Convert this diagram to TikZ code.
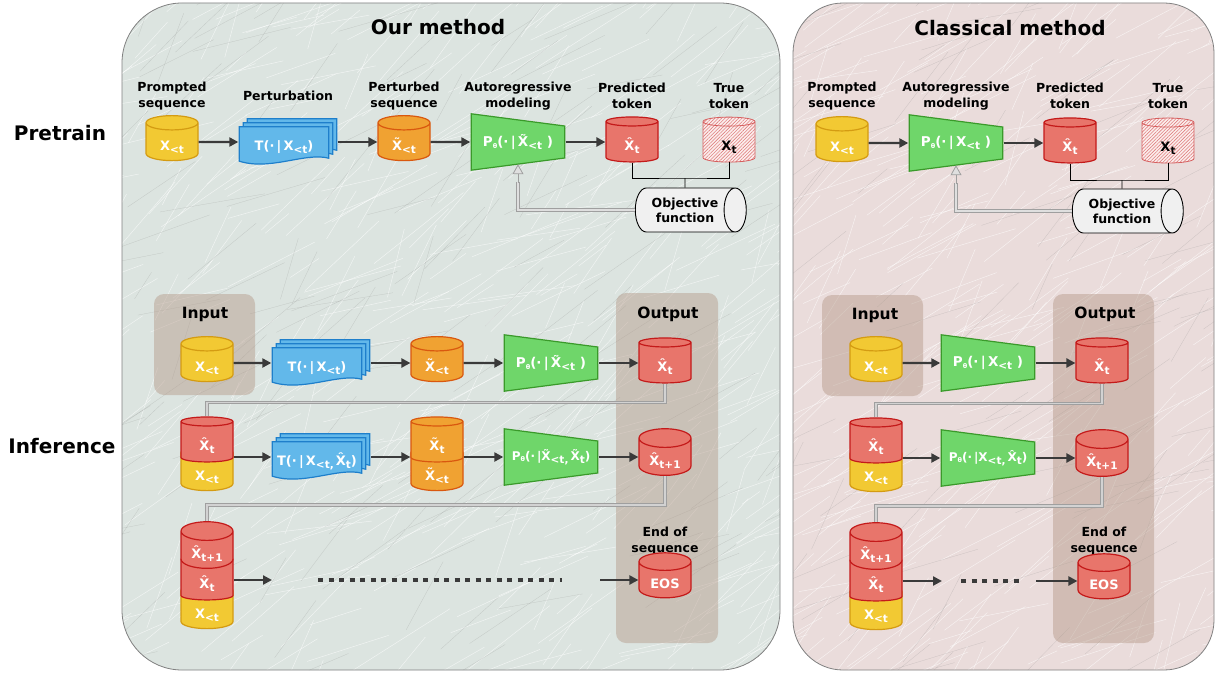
\documentclass[tikz,border=0pt]{standalone}
\usepackage{fontspec}
\setmainfont{DejaVu Sans}
\usepackage{tikz}
\usetikzlibrary{shapes.geometric, arrows.meta, patterns.meta}

\definecolor{panelL}{HTML}{DCE4E0}
\definecolor{panelR}{HTML}{EADCDB}
\definecolor{ioC}{HTML}{B39786}
\definecolor{yelF}{HTML}{F2C933}
\definecolor{yelD}{HTML}{D49B12}
\definecolor{oraF}{HTML}{F0A232}
\definecolor{oraD}{HTML}{D9580F}
\definecolor{redF}{HTML}{E8756B}
\definecolor{redD}{HTML}{C41A1A}
\definecolor{bluF}{HTML}{62B8EA}
\definecolor{bluD}{HTML}{1E7FCB}
\definecolor{grnF}{HTML}{6FD66A}
\definecolor{grnD}{HTML}{3A9A2A}
\definecolor{arrC}{HTML}{3A3A3A}

\newcommand{\lo}[1]{\raisebox{-0.45ex}{\fontsize{10.5}{10.5}\selectfont #1}}
\newcommand{\thsub}{\raisebox{-0.25ex}{\fontsize{6.5}{6.5}\selectfont θ}}
\newcommand{\dsh}[1]{#1\hspace*{8pt}}
% stacked pages behind a docs node
\newcommand{\docshape}[1]{%
  \begin{scope}[shift={#1}, x=1pt, y=1pt]
    \foreach \o in {8,4,0}
      \filldraw[fill=bluF, draw=bluD, line width=1.2pt, shift={(\o,\o)}]
        (-48.7,-19.2) -- (-48.7,15.2) -- (40.7,15.2) -- (40.7,-16.2)
        .. controls (17.5,-10) and (-17.5,-29) .. (-48.7,-19.2) -- cycle;
  \end{scope}}
% trapezoid behind a model node
\newcommand{\modelshape}[1]{%
  \begin{scope}[shift={#1}, x=1pt, y=1pt]
    \filldraw[fill=grnF, draw=grnD, line width=1.2pt]
      (-46.7,-28.2) -- (-46.7,28.2) -- (46.7,16) -- (46.7,-16) -- cycle;
  \end{scope}}

\tikzset{
  big/.style={font=\fontsize{20}{24}\selectfont\bfseries},
  lbl/.style={font=\fontsize{12.5}{16.5}\selectfont\bfseries, align=center},
  iolbl/.style={font=\fontsize{15.5}{18}\selectfont\bfseries},
  cyl/.style={cylinder, shape border rotate=90, aspect=0.6, minimum width=52pt, minimum height=45pt,
    inner sep=0pt, line width=1.2pt, text=white, text height=17pt, text depth=1pt,
    font=\fontsize{13}{14}\selectfont\bfseries},
  ycyl/.style={cyl, fill=yelF, draw=yelD},
  ocyl/.style={cyl, fill=oraF, draw=oraD},
  rcyl/.style={cyl, fill=redF, draw=redD},
  tcyl/.style={cyl, draw=redD!70, line width=0.8pt, text=black, preaction={fill=redF!12},
    pattern={Lines[angle=45, distance=2.4pt, line width=0.6pt]}, pattern color=redD!55},
  objf/.style={cylinder, aspect=0.9, minimum width=44pt, minimum height=111pt, inner sep=0pt,
    draw=black, line width=0.9pt, fill=gray!12, align=center,
    font=\fontsize{12.5}{15}\selectfont\bfseries},
  docs/.style={minimum width=99pt, minimum height=48pt, inner sep=0pt, text=white,
    text height=17pt, text depth=1pt, font=\fontsize{13}{14}\selectfont\bfseries},
  model/.style={minimum width=95pt, minimum height=58pt, inner sep=0pt, text=white,
    font=\fontsize{13.5}{14}\selectfont\bfseries},
  arr/.style={draw=arrC, line width=2.4pt, -{Triangle[length=9pt, width=9pt]}},
  fb/.style={draw=gray!75, line width=0.7pt, double=gray!35, double distance=1.8pt},
  fbp/.style={draw=gray!75, line width=0.8pt, double=gray!25, double distance=2.2pt},
  fbtip/.style={draw=gray!75, line width=0.8pt, -{Triangle[open, fill=gray!25, length=10pt, width=11pt]}},
  brk/.style={draw=black, line width=0.9pt},
  dots/.style={draw=arrC, line width=3.5pt, dash pattern=on 5pt off 5.5pt},
  io/.style={fill=ioC, fill opacity=0.45, rounded corners=10pt},
}

\begin{document}
\begin{tikzpicture}[x=1pt, y=-1pt]
\useasboundingbox (0,0) rectangle (1217,677);
\fill[white] (0,0) rectangle (1217,677);

% panels
\fill[panelL, rounded corners=60pt] (122,3) rectangle (780,670);
\fill[panelR, rounded corners=50pt] (793,3) rectangle (1214,670);
\pgfmathsetseed{5}
\begin{scope}
  \clip[rounded corners=60pt] (122,3) rectangle (780,670);
  \foreach \i in {1,...,520}
    \draw[white, line width=0.5pt, opacity=0.6] ({40+rnd*760},{rnd*720}) -- ++(-35:{20+rnd*110});
  \foreach \i in {1,...,160}
    \draw[gray, line width=0.25pt, opacity=0.3] ({40+rnd*760},{rnd*720}) -- ++(-35:{20+rnd*110});
\end{scope}
\begin{scope}
  \clip[rounded corners=50pt] (793,3) rectangle (1214,670);
  \foreach \i in {1,...,340}
    \draw[white, line width=0.5pt, opacity=0.6] ({720+rnd*500},{rnd*720}) -- ++(-35:{20+rnd*110});
  \foreach \i in {1,...,110}
    \draw[gray, line width=0.25pt, opacity=0.3] ({720+rnd*500},{rnd*720}) -- ++(-35:{20+rnd*110});
\end{scope}
\draw[gray, line width=0.8pt, rounded corners=60pt] (122,3) rectangle (780,670);
\draw[gray, line width=0.8pt, rounded corners=50pt] (793,3) rectangle (1214,670);

\node[big] (tOur) at (438,27) {Our method};
\node[big] (tCls) at (1010,28) {Classical method};
\node[big] (tPre) at (60,133) {Pretrain};
\node[big] (tInf) at (62,446) {Inference};

% input / output boxes
\fill[io] (154,294) rectangle (255,395);
\fill[io] (616,293) rectangle (718,643);
\fill[io] (822,295) rectangle (923,396);
\fill[io] (1053,294) rectangle (1154,643);
\node[iolbl] (lIn) at (205,314) {Input};
\node[iolbl] (lOut) at (668,314) {Output};
\node[iolbl] (rIn) at (875,315) {Input};
\node[iolbl] (rOut) at (1105,314) {Output};

% our method, pretrain
\node[lbl] at (172,96) {Prompted\\sequence};
\node[lbl] at (288,96) {Perturbation};
\node[lbl] at (404,96) {Perturbed\\sequence};
\node[lbl] at (518,96) {Autoregressive\\modeling};
\node[lbl] at (632,96) {Predicted\\token};
\node[lbl] at (729,96) {True\\token};
\node[ycyl] (pP) at (172,142) {X\lo{<t}};
\docshape{(288,142)}
\node[docs] (pT) at (288,142) {\dsh{T(·\,|\,X\lo{<t})}};
\node[ocyl] (pO) at (404,142) {X̃\lo{<t}};
\modelshape{(518,142)}
\node[model] (pM) at (518,142) {P\thsub(·\,|\,X̃\lo{<t}\ )};
\node[rcyl] (pR) at (632,142) {X̂\lo{t}};
\node[tcyl] (pY) at (729,142) {X\lo{t}};
\node[objf] (pF) at (685,210) {Objective\\function};
\coordinate (pB) at (685,178);
\draw[arr] (pP) -- (pT);
\draw[arr] (pT) -- (pO);
\draw[arr] (pO) -- (pM);
\draw[arr] (pM) -- (pR);
\draw[brk] (pR.south) |- (pB) -| (pY.south);
\draw[brk] (pF.north) -- (pB);
\draw[fbp] (pF) -| ([yshift=-11pt]pM.south);
\draw[fbtip] ([yshift=-12pt]pM.south) -- ([yshift=7pt]pM.south);

% classical method, pretrain
\node[lbl] at (842,96) {Prompted\\sequence};
\node[lbl] at (956,96) {Autoregressive\\modeling};
\node[lbl] at (1070,96) {Predicted\\token};
\node[lbl] at (1168,96) {True\\token};
\node[ycyl] (cP) at (842,143) {X\lo{<t}};
\modelshape{(956,143)}
\node[model] (cM) at (956,143) {P\thsub(·\,|\,X\lo{<t}\ )};
\node[rcyl] (cR) at (1070,143) {X̂\lo{t}};
\node[tcyl] (cY) at (1168,143) {X\lo{t}};
\node[objf] (cF) at (1122,211) {Objective\\function};
\coordinate (cB) at (1122,180);
\draw[arr] (cP) -- (cM);
\draw[arr] (cM) -- (cR);
\draw[brk] (cR.south) |- (cB) -| (cY.south);
\draw[brk] (cF.north) -- (cB);
\draw[fbp] (cF) -| ([yshift=-11pt]cM.south);
\draw[fbtip] ([yshift=-12pt]cM.south) -- ([yshift=7pt]cM.south);

% our method, inference
\node[ycyl] (iX1) at (207,363) {X\lo{<t}};
\docshape{(321,363)}
\node[docs] (iT1) at (321,363) {\dsh{T(·\,|\,X\lo{<t})}};
\node[ocyl] (iO1) at (437,363) {X̃\lo{<t}};
\modelshape{(551,363)}
\node[model] (iM1) at (551,363) {P\thsub(·\,|\,X̃\lo{<t}\ )};
\node[rcyl] (iR1) at (665,363) {X̂\lo{t}};
\draw[arr] (iX1) -- (iT1);
\draw[arr] (iT1) -- (iO1);
\draw[arr] (iO1) -- (iM1);
\draw[arr] (iM1) -- (iR1);

\node[ycyl] (iS2b) at (207,472) {X\lo{<t}};
\node[rcyl] (iS2a) at (207,442) {X̂\lo{t}};
\docshape{(321,457)}
\node[docs] (iT2) at (321,457) {\dsh{T(·\,|\,X\lo{<t,}\,X̂\lo{t})}};
\node[ocyl] (iO2b) at (437,472) {X̃\lo{<t}};
\node[ocyl] (iO2a) at (437,442) {X̃\lo{t}};
\modelshape{(551,457)}
\node[model, font=\fontsize{12}{13}\selectfont\bfseries] (iM2) at (551,457) {P\thsub(·\,|X̃\lo{<t,}\,X̃\lo{t})};
\node[rcyl] (iR2) at (665,457) {X̂\lo{t+1}};
\draw[fb] (iR1.south) -- ++(0,19) -| (iS2a.north);
\draw[arr] (iS2a.east |- iT2.west) -- (iT2.west);
\draw[arr] (iT2.east) -- (iO2a.west |- iT2.east);
\draw[arr] (iO2a.east |- iM2.west) -- (iM2.west);
\draw[arr] (iM2) -- (iR2);

\node[ycyl] (iS3c) at (207,610) {X\lo{<t}};
\node[rcyl] (iS3b) at (207,580) {X̂\lo{t}};
\node[rcyl] (iS3a) at (207,550) {X̂\lo{t+1}};
\node[lbl] at (665,541) {End of\\sequence};
\node[rcyl] (iE) at (665,580) {EOS};
\coordinate (iA) at (272,580);
\coordinate (iD1) at (318,580);
\coordinate (iD2) at (562,580);
\coordinate (iB) at (600,580);
\draw[fb] (iR2.south) -- ++(0,29) -| (iS3a.north);
\draw[arr] (iS3b) -- (iA);
\draw[dots] (iD1) -- (iD2);
\draw[arr] (iB) -- (iE);

% classical method, inference
\node[ycyl] (jX1) at (876,363) {X\lo{<t}};
\modelshape{(988,363)}
\node[model] (jM1) at (988,363) {P\thsub(·\,|\,X\lo{<t}\ )};
\node[rcyl] (jR1) at (1102,363) {X̂\lo{t}};
\draw[arr] (jX1) -- (jM1);
\draw[arr] (jM1) -- (jR1);

\node[ycyl] (jS2b) at (876,473) {X\lo{<t}};
\node[rcyl] (jS2a) at (876,443) {X̂\lo{t}};
\modelshape{(988,458)}
\node[model, font=\fontsize{12}{13}\selectfont\bfseries] (jM2) at (988,458) {P\thsub(·\,|X\lo{<t,}\,X̂\lo{t})};
\node[rcyl] (jR2) at (1102,458) {X̂\lo{t+1}};
\draw[fb] (jR1.south) -- ++(0,20) -| (jS2a.north);
\draw[arr] (jS2a.east |- jM2.west) -- (jM2.west);
\draw[arr] (jM2) -- (jR2);

\node[ycyl] (jS3c) at (876,611) {X\lo{<t}};
\node[rcyl] (jS3b) at (876,581) {X̂\lo{t}};
\node[rcyl] (jS3a) at (876,551) {X̂\lo{t+1}};
\node[lbl] at (1104,541) {End of\\sequence};
\node[rcyl] (jE) at (1104,581) {EOS};
\coordinate (jA) at (942,581);
\coordinate (jD1) at (961,581);
\coordinate (jD2) at (1020,581);
\coordinate (jB) at (1036,581);
\draw[fb] (jR2.south) -- ++(0,29) -| (jS3a.north);
\draw[arr] (jS3b) -- (jA);
\draw[dots] (jD1) -- (jD2);
\draw[arr] (jB) -- (jE);
\end{tikzpicture}
\end{document}
